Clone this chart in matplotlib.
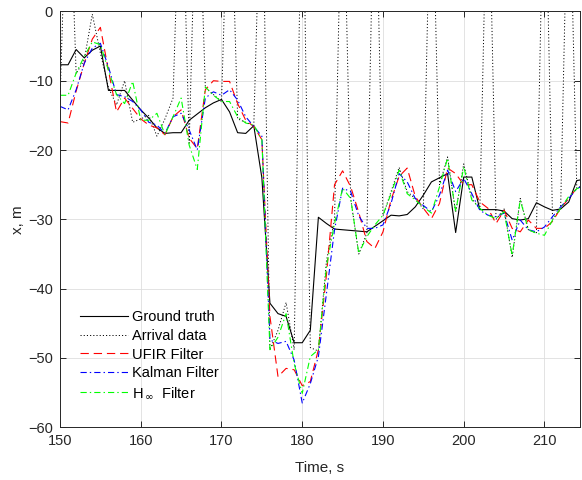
import numpy as np
import matplotlib
matplotlib.use("Agg")
import matplotlib.pyplot as plt

plt.rcParams['font.family'] = ['Liberation Sans', 'DejaVu Sans']
plt.rcParams['mathtext.fontset'] = 'dejavusans'
plt.rcParams['lines.scale_dashes'] = False

time = list(range(150, 216))

ground_truth = [-7.7, -7.7, -5.5, -6.7, -5.6, -5.0, -11.4, -11.4, -11.4, -12.8,
                -14.2, -15.4, -16.8, -17.6, -17.5, -17.5, -15.7, -14.8, -13.9, -13.2,
                -12.7, -14.5, -17.5, -17.6, -16.5, -24.0, -42.1, -43.6, -44.0, -47.8,
                -47.8, -46.0, -29.7, -30.6, -31.4, -31.5, -31.6, -31.7, -31.8, -31.0,
                -30.2, -29.4, -29.5, -29.3, -28.2, -26.5, -24.6, -24.0, -23.4, -31.9,
                -23.9, -23.9, -28.6, -28.6, -28.6, -28.8, -29.9, -30.1, -29.9, -27.6,
                -28.2, -28.7, -28.5, -27.5, -24.4, -24.2]

arrival = [-13.0, 25.0, -9.0, -7.0, -0.4, -6.0, -11.0, -13.5, -10.0, -16.0,
           -15.5, -15.0, -18.0, -15.5, -12.5, 25.0, -19.0, 25.0, -11.0, -12.0,
           -13.0, 25.0, -15.5, -16.0, -16.5, 25.0, -48.8, -46.0, -42.0, -48.8,
           25.0, -48.5, -49.0, -36.0, -30.0, 25.0, -27.0, -35.0, -32.0, 25.0,
           -29.5, -26.0, -22.5, -26.0, -27.0, -28.5, 25.0, -25.0, -21.0, -29.0,
           -22.0, -27.0, -28.5, 25.0, -30.0, -28.5, -35.5, -27.0, -31.5, -32.0,
           25.0, -30.0, -28.5, 25.0, -25.5, -25.0]

ufir = [-15.9, -16.1, -11.5, -7.5, -4.0, -2.3, -8.5, -14.5, -12.5, -14.0,
        -15.5, -16.4, -16.8, -17.8, -15.2, -14.2, -18.3, -19.8, -11.3, -10.0,
        -10.1, -10.1, -13.3, -15.7, -16.6, -18.5, -44.0, -52.7, -51.5, -51.7,
        -54.0, -53.4, -48.8, -38.0, -25.0, -23.0, -25.3, -29.0, -33.2, -34.2,
        -31.8, -27.2, -23.8, -22.6, -26.7, -28.4, -29.9, -27.7, -22.6, -23.4,
        -25.0, -25.0, -27.5, -28.4, -30.6, -28.7, -31.3, -31.8, -30.1, -31.3,
        -31.3, -30.3, -28.4, -27.0, -25.5, -25.0]

kalman = [-13.7, -14.2, -11.3, -7.5, -5.3, -4.6, -8.0, -12.0, -12.3, -13.0,
          -14.2, -16.0, -16.4, -17.6, -15.2, -14.7, -17.1, -20.0, -12.5, -11.6,
          -12.1, -11.3, -12.8, -15.2, -16.6, -18.0, -47.4, -47.9, -47.6, -50.3,
          -56.5, -53.7, -49.8, -40.7, -31.5, -25.5, -26.0, -29.5, -31.3, -31.3,
          -30.8, -27.7, -23.4, -24.6, -27.0, -28.0, -28.9, -26.5, -22.9, -26.0,
          -24.1, -26.3, -28.7, -29.4, -29.6, -29.1, -33.0, -30.1, -31.5, -31.8,
          -31.1, -29.6, -28.2, -27.0, -25.6, -25.0]

hinf = [-12.1, -12.1, -8.9, -6.5, -4.4, -4.8, -8.5, -12.0, -13.3, -10.1,
        -15.7, -15.7, -14.7, -17.8, -15.2, -12.5, -19.3, -22.8, -10.9, -12.1,
        -13.0, -13.0, -15.2, -16.1, -16.4, -18.5, -48.8, -47.0, -43.6, -50.8,
        -55.1, -49.8, -48.8, -36.8, -30.6, -25.5, -27.0, -34.9, -32.5, -30.8,
        -29.4, -26.3, -22.9, -26.3, -27.2, -28.2, -29.1, -25.3, -21.2, -28.9,
        -22.4, -27.2, -28.4, -29.4, -29.9, -28.9, -35.2, -27.2, -31.5, -32.0,
        -32.3, -30.1, -28.4, -26.7, -25.6, -25.0]

x_ticks = [150, 160, 170, 180, 190, 200, 210]
y_ticks = [0, -10, -20, -30, -40, -50, -60]

fig = plt.figure(figsize=(5.82, 4.80), dpi=100)
ax = fig.add_axes([60/582, 1 - 427.3/480, 520/582, (427.3 - 11.4)/480])

lw = 0.8
dashdot = (0, (4.5, 2.2, 1.0, 2.2))
ax.plot(time, ground_truth, color='black', lw=lw, ls='-', label='Ground truth')
ax.plot(time, arrival, color='black', lw=0.7, ls=(0, (0.8, 1.5)), label='Arrival data')
ax.plot(time, ufir, color='red', lw=lw, ls=(0, (6, 3.5)), label='UFIR Filter')
ax.plot(time, kalman, color='blue', lw=lw, ls=dashdot, label='Kalman Filter')
ax.plot(time, hinf, color='#00ff00', lw=lw, ls=dashdot, label=r'H$_{\,\infty}$  Filter')

ax.set_xlim(150, 214.4)
ax.set_ylim(-60, 0)
ax.set_xticks(x_ticks)
ax.set_yticks(y_ticks)
ax.grid(True, color='#dedede', lw=0.6)
ax.set_axisbelow(True)

axcol = '#262626'
for s in ax.spines.values():
    s.set_color(axcol)
    s.set_linewidth(0.7)
ax.tick_params(direction='in', length=4, width=0.7, top=True, right=True,
               colors=axcol, labelsize=10.5, pad=5)
ax.set_xlabel('Time, s', fontsize=11, color=axcol, labelpad=9.5)
ax.set_ylabel('x, m', fontsize=11, color=axcol, labelpad=2.5)

leg = ax.legend(loc='lower left', bbox_to_anchor=(0.038, 0.064), frameon=False,
                fontsize=10.5, handlelength=3.3, handletextpad=0.3,
                labelspacing=0.33, borderpad=0, borderaxespad=0)

fig.savefig('out.png', dpi=100)
